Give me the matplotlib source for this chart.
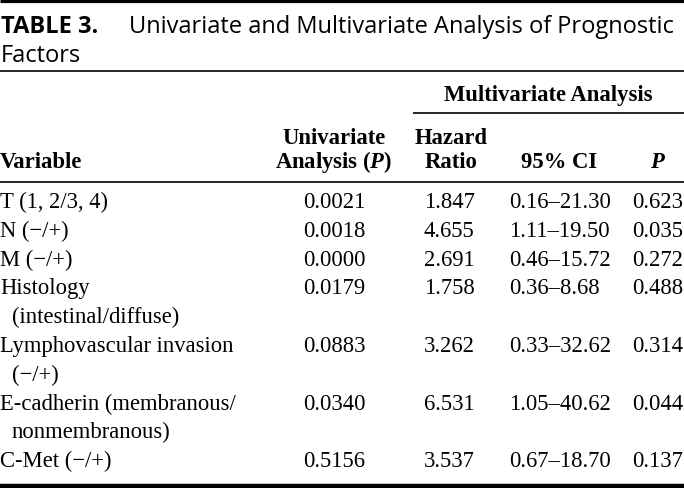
import matplotlib.pyplot as plt

plt.rcParams['mathtext.fontset'] = 'custom'
plt.rcParams['mathtext.it'] = 'Liberation Serif:bold:italic'
plt.rcParams['mathtext.rm'] = 'Liberation Serif:bold'

# table content
title_lines = ["Univariate and Multivariate Analysis of Prognostic", "Factors"]
variables = [
    ["T (1, 2/3, 4)"],
    ["N (\u2212/+)"],
    ["M (\u2212/+)"],
    ["Histology", "(intestinal/diffuse)"],
    ["Lymphovascular invasion", "(\u2212/+)"],
    ["E-cadherin (membranous/", "nonmembranous)"],
    ["C-Met (\u2212/+)"],
]
univariate_p = ["0.0021", "0.0018", "0.0000", "0.0179", "0.0883", "0.0340", "0.5156"]
hazard_ratio = ["1.847", "4.655", "2.691", "1.758", "3.262", "6.531", "3.537"]
ci_95 = ["0.16\u201321.30", "1.11\u201319.50", "0.46\u201315.72", "0.36\u20138.68",
         "0.33\u201332.62", "1.05\u201340.62", "0.67\u201318.70"]
multi_p = ["0.623", "0.035", "0.272", "0.488", "0.314", "0.044", "0.137"]

W, H = 684, 489
fig = plt.figure(figsize=(W / 100, H / 100), dpi=100)
ax = fig.add_axes([0, 0, 1, 1])
ax.set_xlim(0, W)
ax.set_ylim(H, 0)
ax.axis('off')

sans = 'Open Sans'
serif = 'Liberation Serif'
fs = 16.3

# rules
ax.plot([0, W], [1.5, 1.5], color='black', lw=2.3, solid_capstyle='butt')
ax.plot([0, W], [72, 72], color='black', lw=1.2, solid_capstyle='butt')
ax.plot([413, W], [114, 114], color='black', lw=1.2, solid_capstyle='butt')
ax.plot([0, W], [182.5, 182.5], color='black', lw=1.2, solid_capstyle='butt')
ax.plot([0, W], [486.5, 486.5], color='black', lw=3.2, solid_capstyle='butt')

# title
ax.text(1, 33, "TABLE 3.", family=sans, weight='bold', fontsize=17, va='baseline')
ax.text(129, 33, title_lines[0], family=sans, fontsize=17, va='baseline')
ax.text(1, 62, title_lines[1], family=sans, fontsize=17, va='baseline')

# header
hdr = dict(family=serif, weight='bold', fontsize=fs, va='baseline')
ax.text(548, 101, "Multivariate Analysis", ha='center', **hdr)
ax.text(334, 144, "Univariate", ha='center', **hdr)
ax.text(334, 168, "Analysis ($\\mathit{P}$)", ha='center', **hdr)
ax.text(451, 144, "Hazard", ha='center', **hdr)
ax.text(451, 168, "Ratio", ha='center', **hdr)
ax.text(559, 168, "95% CI", ha='center', **hdr)
ax.text(657, 168, "P", style='italic', ha='center', **hdr)
ax.text(0, 168, "Variable", **hdr)

# body
step = 28.8
line_idx = 0
for i in range(len(variables)):
    y = 208 + step * line_idx
    for j, line in enumerate(variables[i]):
        ax.text(0 if j == 0 else 12, y + step * j, line, family=serif, fontsize=fs, va='baseline')
    ax.text(334, y, univariate_p[i], family=serif, fontsize=fs, ha='center', va='baseline')
    ax.text(449, y, hazard_ratio[i], family=serif, fontsize=fs, ha='center', va='baseline')
    ax.text(509, y, ci_95[i], family=serif, fontsize=fs, ha='left', va='baseline')
    ax.text(658, y, multi_p[i], family=serif, fontsize=fs, ha='center', va='baseline')
    line_idx += len(variables[i])

fig.savefig('out.png', dpi=100)
